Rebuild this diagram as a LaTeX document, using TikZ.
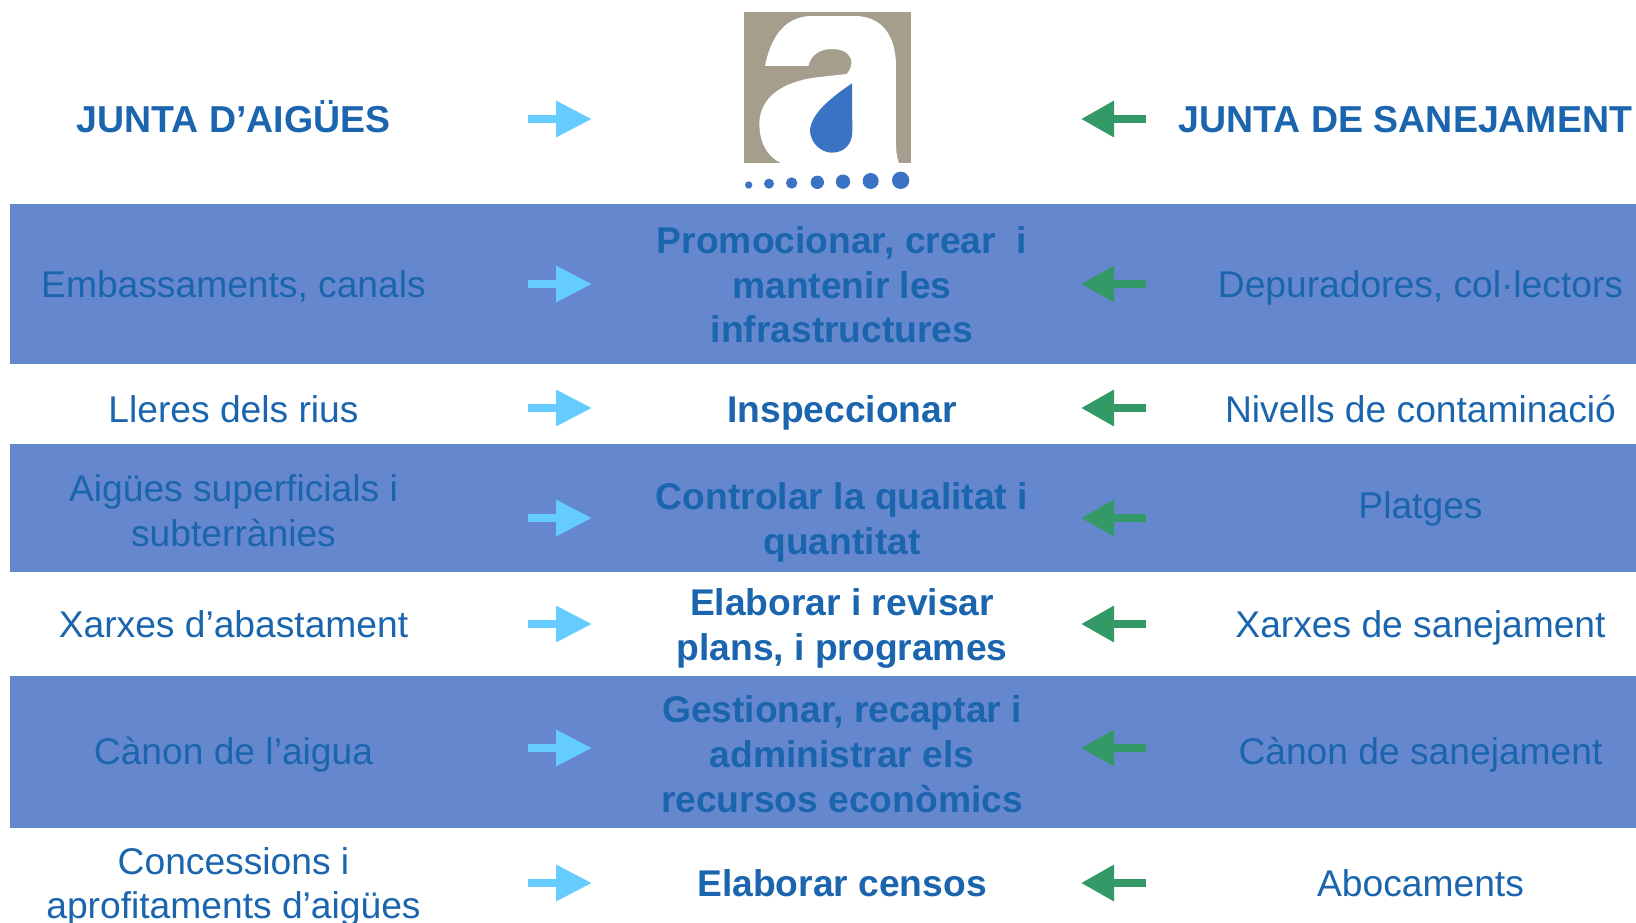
\documentclass[tikz,border=0pt]{standalone}
\usepackage{fontspec}
\setmainfont{Liberation Sans}
\usetikzlibrary{arrows.meta}
\definecolor{bandblue}{HTML}{6587CD}
\definecolor{txtblue}{HTML}{1A65AE}
\definecolor{arrblue}{HTML}{66CCFF}
\definecolor{arrgreen}{HTML}{339966}
\definecolor{logogray}{HTML}{A59E8C}
\definecolor{dropblue}{HTML}{3A72C4}
\newcommand\ls{\vrule height 32pt depth 12.8pt width 0pt\relax}
\tikzset{
  band/.style={fill=bandblue,draw=none},
  reg/.style={inner sep=0pt,align=center,text=txtblue,font=\fontsize{37.2}{44.8}\selectfont},
  bld/.style={inner sep=0pt,align=center,text=txtblue,font=\fontsize{37.2}{44.8}\selectfont\bfseries},
  head/.style={inner sep=0pt,align=center,text=txtblue,font=\fontsize{37.5}{44.8}\selectfont\bfseries},
  inarrow/.style={line width=8pt,draw=arrblue,-{Triangle[length=36pt,width=34.5pt,color=arrblue]}},
  outarrow/.style={line width=8pt,draw=arrgreen,-{Triangle[length=33pt,width=34.5pt,color=arrgreen]}},
  dotb/.style={fill=dropblue,draw=none}
}
\begin{document}
\begin{tikzpicture}[x=1pt,y=-1pt]
\useasboundingbox (0,0) rectangle (1636,922);
\fill[white] (0,0) rectangle (1636,922);
% bands
\fill[band] (10,204) rectangle (1636,364);
\fill[band] (10,444) rectangle (1636,572);
\fill[band] (10,676) rectangle (1636,828);
% logo
\begin{scope}[shift={(700,0)},x=0.3333pt,y=-0.3333pt]
\fill[logogray] (132,36) rectangle (633,490);
\fill[white] (195,198) .. controls (215,100) and (260,52) .. (330,48) -- (470,48)
  .. controls (550,52) and (585,110) .. (588,190) -- (588,430) .. controls (588,460) and (592,475) .. (597,490)
  -- (245,490) .. controls (200,470) and (178,425) .. (178,370)
  .. controls (180,290) and (250,245) .. (350,232) -- (440,222)
  .. controls (452,210) and (458,190) .. (452,175) .. controls (445,155) and (420,147) .. (395,147)
  .. controls (360,147) and (332,165) .. (325,198) -- cycle;
\fill[dropblue] (456,250) .. controls (390,295) and (335,340) .. (330,390)
  .. controls (330,430) and (365,458) .. (395,458) .. controls (435,458) and (457,430) .. (457,395) -- cycle;
\fill[dotb] (146,555) circle (11);
\fill[dotb] (207,551) circle (15);
\fill[dotb] (275,549) circle (17);
\fill[dotb] (352,547) circle (20);
\fill[dotb] (429,545) circle (21.5);
\fill[dotb] (512,543) circle (24);
\fill[dotb] (602,541) circle (26);
\end{scope}
% arrows
\foreach \n/\y in {a/119,b/284,c/408,d/518,e/624,f/748,g/883}{
  \coordinate (\n ls) at (528,\y);
  \coordinate (\n le) at (592,\y);
  \coordinate (\n rs) at (1146,\y);
  \coordinate (\n re) at (1081,\y);
  \draw[inarrow] (\n ls) -- (\n le);
  \draw[outarrow] (\n rs) -- (\n re);
}
% row 1
\node[head] (l1) at (233.5,122.7) {\ls JUNTA D’AIGÜES};
\node[head] (r1) at (1405.5,122.7) {\ls JUNTA DE SANEJAMENT};
% row 2
\node[reg] (l2) at (233.5,287.5) {\ls Embassaments, canals};
\node[bld] (c2) at (842,288.5) {\ls Promocionar, crear\ \ i\\\ls mantenir les\\\ls infrastructures};
\node[reg] (r2) at (1420.5,287.5) {\ls Depuradores, col·lectors};
% row 3
\node[reg] (l3) at (233.5,412.7) {\ls Lleres dels rius};
\node[bld] (c3) at (842,412.7) {\ls Inspeccionar};
\node[reg] (r3) at (1420.5,412.7) {\ls Nivells de contaminació};
% row 4
\node[reg] (l4) at (233.5,514) {\ls Aigües superficials i\\\ls subterrànies};
\node[bld] (c4) at (842,522.5) {\ls Controlar la qualitat i\\\ls quantitat};
\node[reg] (r4) at (1420.5,508.5) {\ls Platges};
% row 5
\node[reg] (l5) at (233.5,627.5) {\ls Xarxes d’abastament};
\node[bld] (c5) at (842,628.5) {\ls Elaborar i revisar\\\ls plans, i programes};
\node[reg] (r5) at (1420.5,627.5) {\ls Xarxes de sanejament};
% row 6
\node[reg] (l6) at (233.5,755) {\ls Càn{}on de l’aigua};
\node[bld] (c6) at (842,758) {\ls Gestionar, recaptar i\\\ls administrar els\\\ls recursos econòmics};
\node[reg] (r6) at (1420.5,755) {\ls Càn{}on de sanejament};
% row 7
\node[reg] (l7) at (233.5,886.8) {\ls Concessions i\\\ls aprofitaments d’aigües};
\node[bld] (c7) at (842,887) {\ls Elaborar censos};
\node[reg] (r7) at (1420.5,887) {\ls Abocaments};
\end{tikzpicture}
\end{document}
